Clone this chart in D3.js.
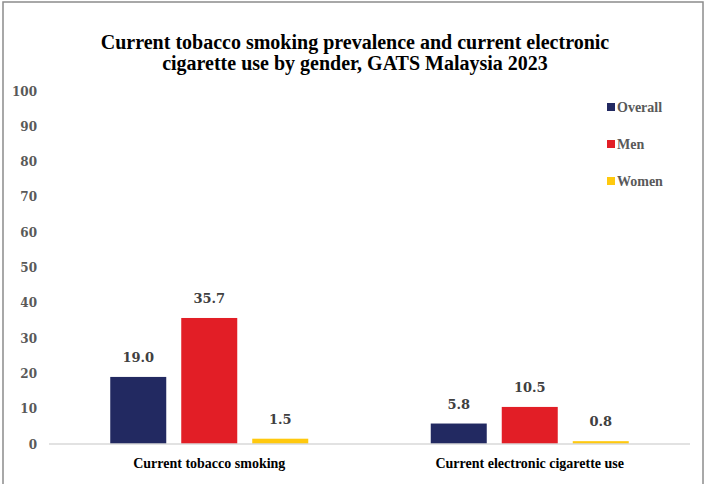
<!DOCTYPE html>
<html>
<head>
<meta charset="utf-8">
<script src="https://cdn.jsdelivr.net/npm/d3@7"></script>
<style>
body{margin:0;background:#fff;}
text{font-family:"Liberation Serif",serif;font-weight:bold;}
.num{font-family:"DejaVu Serif",serif;}
</style>
</head>
<body>
<div id="chart"></div>
<script>
var categories = ["Current tobacco smoking","Current electronic cigarette use"];
var seriesNames = ["Overall","Men","Women"];
var overall = [19.0,5.8];
var men = [35.7,10.5];
var women = [1.5,0.8];
var yTicks = [0,10,20,30,40,50,60,70,80,90,100];
var colors = ["#222961","#E21E26","#FFC90E"];

var W = 705, H = 484;
var svg = d3.select("#chart").append("svg").attr("width",W).attr("height",H);

// frame
svg.append("rect").attr("x",3).attr("y",2).attr("width",700).attr("height",H+10)
	.attr("fill","none").attr("stroke","#8c8c8c").attr("stroke-width",1.5);

svg.append("text").attr("x",355).attr("y",49).attr("text-anchor","middle")
	.style("font-size","20px").attr("fill","#000")
	.text("Current tobacco smoking prevalence and current electronic");
svg.append("text").attr("x",355).attr("y",70).attr("text-anchor","middle")
	.style("font-size","20px").attr("fill","#000")
	.text("cigarette use by gender, GATS Malaysia 2023");

var y = d3.scaleLinear().domain([0,100]).range([444,91]);
var x0 = d3.scaleBand().domain(categories).range([49,690]);
var x1 = d3.scaleBand().domain(seriesNames).range([0,198]).paddingInner(15/71).paddingOuter(0);

var rows = categories.map(function(c,i){
	return {cat:c, vals:[overall[i],men[i],women[i]]};
});

// y tick labels
svg.selectAll(".ytick").data(yTicks).enter().append("text").attr("class","num")
	.attr("x",37).attr("y",function(d){return y(d)+4.5;})
	.attr("text-anchor","end").style("font-size","12px").attr("fill","#595959")
	.text(function(d){return d;});

var g = svg.selectAll(".grp").data(rows).enter().append("g")
	.attr("transform",function(d){return "translate("+(x0(d.cat)+x0.bandwidth()/2-99)+",0)";});

g.selectAll("rect").data(function(d){return d.vals.map(function(v,i){return {s:seriesNames[i],v:v,c:colors[i]};});})
	.enter().append("rect")
	.attr("x",function(d){return x1(d.s);})
	.attr("y",function(d){return y(d.v);})
	.attr("width",x1.bandwidth())
	.attr("height",function(d){return y(0)-y(d.v);})
	.attr("fill",function(d){return d.c;});

g.selectAll(".lbl").data(function(d){return d.vals.map(function(v,i){return {s:seriesNames[i],v:v};});})
	.enter().append("text").attr("class","num")
	.attr("x",function(d){return x1(d.s)+x1.bandwidth()/2;})
	.attr("y",function(d){return y(d.v)-15;})
	.attr("text-anchor","middle").style("font-size","13px").attr("fill","#404040")
	.text(function(d){return d.v.toFixed(1);});

// baseline
svg.append("line").attr("x1",49).attr("x2",690).attr("y1",y(0)).attr("y2",y(0))
	.attr("stroke","#d9d9d9").attr("stroke-width",1.5);

svg.selectAll(".cat").data(categories).enter().append("text")
	.attr("x",function(d){return x0(d)+x0.bandwidth()/2;})
	.attr("y",468).attr("text-anchor","middle").style("font-size","14px").attr("fill","#000")
	.text(function(d){return d;});

// legend
var leg = svg.selectAll(".leg").data(seriesNames).enter().append("g")
	.attr("transform",function(d,i){return "translate(607,"+(103+i*37)+")";});
leg.append("rect").attr("width",8).attr("height",8).attr("fill",function(d,i){return colors[i];});
leg.append("text").attr("x",10).attr("y",8.5).style("font-size","14px").attr("fill","#595959")
	.text(function(d){return d;});
</script>
</body>
</html>
